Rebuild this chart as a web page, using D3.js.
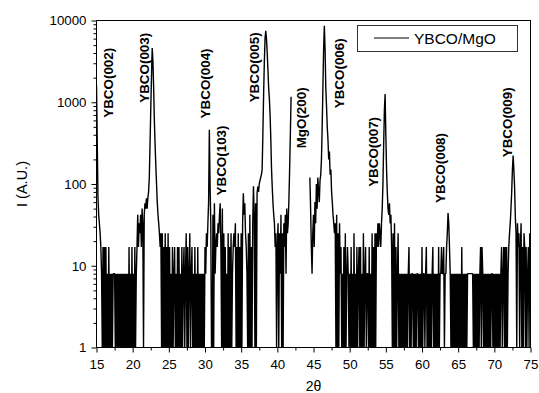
<!DOCTYPE html>
<html>
<head>
<meta charset="utf-8">
<script src="https://cdn.jsdelivr.net/npm/d3@7"></script>
<style>
  html, body { margin: 0; padding: 0; background: #fff; }
  svg { display: block; font-family: Arial, "Liberation Sans", sans-serif; }
</style>
</head>
<body>
<div id="chart"></div>
<script>
// 2-theta grid of the scan (degrees)
const thetaStart = 15;
const thetaStep = 0.1;

// Intensities, 10 points per degree, 1 = zero counts
const int15 = [
  1600, 350, 70, 42, 33, 25, 17, 8, 1, 17,
  1, 17, 1, 17, 1, 8, 1, 17, 1, 8,
  1, 8, 1, 8, 8, 8, 1, 8, 1, 8,
  1, 8, 1, 8, 1, 8, 1, 8, 1, 8,
  1, 8, 1, 8, 1, 17, 1, 8, 1, 17,
  1, 8, 1, 17, 1, 8, 17, 42, 17, 33,
  25, 42, 17, 50, 33, 1, 42, 58, 50, 67,
  50, 67, 80, 120, 300, 800, 2000, 4600, 3200, 1500,
  600, 300, 170, 100, 60, 42, 33, 25, 17, 25,
  1, 25, 1, 17, 1, 25, 1, 17, 1, 25,
];
const int25 = [
  1, 17, 1, 8, 1, 17, 1, 8, 17, 1,
  8, 1, 17, 1, 17, 1, 8, 1, 17, 1,
  8, 17, 1, 8, 25, 1, 17, 1, 8, 25,
  1, 8, 17, 1, 8, 1, 17, 1, 8, 1,
  17, 1, 8, 1, 8, 1, 8, 1, 8, 1,
  17, 8, 25, 17, 33, 60, 460, 100, 33, 1,
  1, 42, 1, 58, 8, 17, 25, 17, 33, 25,
  42, 58, 17, 1, 50, 1, 25, 1, 17, 1,
  8, 1, 25, 1, 17, 1, 25, 1, 8, 17,
  25, 17, 33, 1, 17, 1, 25, 1, 17, 1,
];
// 42.0-44.4 is missing from the scan (MgO substrate peak)
const int35 = [
  25, 1, 33, 77, 42, 58, 25, 17, 8, 1,
  25, 1, 42, 1, 17, 1, 33, 94, 42, 1,
  58, 1, 77, 93, 80, 100, 110, 120, 130, 150,
  400, 1200, 3000, 6000, 7480, 6000, 4000, 2500, 1500, 1100,
  700, 350, 150, 90, 58, 42, 33, 17, 25, 1,
  17, 33, 1, 25, 8, 42, 1, 25, 1, 33,
  17, 42, 8, 50, 25, 33, 64, 150, 400, 1170,
  null, null, null, null, null, null, null, null, null, null,
  null, null, null, null, null, null, null, null, null, null,
  null, null, null, null, null, 120, 50, 17, 8, 25,
];
const int45 = [
  42, 17, 60, 33, 100, 50, 120, 80, 60, 110,
  130, 200, 500, 1500, 4500, 8600, 4500, 1500, 900, 500,
  350, 200, 250, 130, 150, 80, 60, 42, 33, 25,
  33, 1, 42, 1, 25, 1, 33, 8, 17, 1,
  8, 1, 17, 1, 25, 1, 8, 17, 8, 1,
  8, 1, 17, 1, 8, 1, 25, 1, 8, 1,
  17, 1, 8, 17, 1, 17, 1, 8, 1, 25,
  1, 8, 17, 1, 8, 8, 1, 17, 1, 8,
  1, 25, 1, 17, 1, 25, 1, 25, 17, 33,
  17, 33, 25, 17, 33, 50, 100, 300, 800, 1260,
];
const int55 = [
  400, 150, 80, 50, 42, 58, 33, 42, 17, 1,
  25, 1, 33, 1, 17, 1, 8, 25, 1, 8,
  1, 8, 1, 8, 1, 8, 1, 8, 1, 8,
  1, 8, 17, 1, 8, 1, 8, 8, 1, 8,
  1, 8, 1, 8, 8, 1, 8, 1, 8, 1,
  17, 1, 8, 8, 1, 8, 17, 1, 8, 1,
  8, 1, 8, 1, 8, 17, 1, 8, 1, 8,
  1, 8, 1, 17, 1, 8, 8, 17, 8, 8,
  17, 1, 8, 8, 17, 25, 44, 33, 17, 8,
  1, 8, 1, 8, 1, 8, 1, 8, 1, 8,
];
const int65 = [
  1, 8, 1, 8, 1, 17, 1, 8, 1, 8,
  1, 8, 1, 8, 8, 8, 8, 8, 8, 8,
  8, 1, 8, 1, 8, 1, 8, 1, 8, 1,
  8, 17, 1, 17, 8, 1, 8, 1, 8, 1,
  8, 1, 8, 1, 8, 1, 8, 8, 1, 8,
  1, 8, 1, 8, 1, 8, 1, 8, 1, 8,
  17, 1, 8, 17, 1, 17, 1, 17, 1, 8,
  17, 25, 33, 50, 80, 150, 223, 150, 92, 40,
  25, 1, 33, 17, 25, 1, 17, 33, 1, 17,
  1, 25, 17, 1, 17, 1, 8, 17, 1, 25,
];
const int75 = [17];

const xTicks = [15, 20, 25, 30, 35, 40, 45, 50, 55, 60, 65, 70, 75];
const yTicks = [1, 10, 100, 1000, 10000];

// Reflection labels, placed at (2theta, intensity) of the label centre
const peakLabels = [
  { text: "YBCO(002)", theta: 16.69, intensity: 1730 },
  { text: "YBCO(003)", theta: 21.61, intensity: 2640 },
  { text: "YBCO(004)", theta: 30.10, intensity: 1700 },
  { text: "YBCO(103)", theta: 32.31, intensity: 194 },
  { text: "YBCO(005)", theta: 36.80, intensity: 2670 },
  { text: "MgO(200)", theta: 43.37, intensity: 644 },
  { text: "YBCO(006)", theta: 48.62, intensity: 2260 },
  { text: "YBCO(007)", theta: 53.25, intensity: 247 },
  { text: "YBCO(008)", theta: 62.51, intensity: 157 },
  { text: "YBCO(009)", theta: 71.84, intensity: 568 },
];

const seriesName = "YBCO/MgO";

const width = 539;
const height = 393;
const margin = { top: 20.5, right: 8.5, bottom: 45.5, left: 96.5 };
const chartWidth = width - margin.left - margin.right;
const chartHeight = height - margin.top - margin.bottom;

const intensities = [].concat(int15, int25, int35, int45, int55, int65, int75);
const data = intensities.map((v, i) => ({
  theta: thetaStart + i * thetaStep,
  value: v,
}));

const x = d3.scaleLinear().domain([15, 75]).range([0, chartWidth]);
const y = d3.scaleLog().domain([1, 10000]).range([chartHeight, 0]);

const svg = d3.select("#chart")
  .append("svg")
  .attr("width", width)
  .attr("height", height);

const g = svg.append("g")
  .attr("transform", `translate(${margin.left},${margin.top})`);

g.append("clipPath")
  .attr("id", "plot-clip")
  .append("rect")
  .attr("width", chartWidth)
  .attr("height", chartHeight);

// minor ticks
const xMinor = xTicks.slice(0, -1).map((t, i) => (t + xTicks[i + 1]) / 2);
const yMinor = [];
yTicks.slice(0, -1).forEach((d) => {
  for (let k = 2; k < 10; k++) yMinor.push(d * k);
});

g.append("g")
  .attr("transform", `translate(0,${chartHeight})`)
  .call(d3.axisBottom(x).tickValues(xMinor).tickSize(3).tickFormat(""))
  .call((a) => a.select(".domain").remove());

g.append("g")
  .call(d3.axisLeft(y).tickValues(yMinor).tickSize(3).tickFormat(""))
  .call((a) => a.select(".domain").remove());

g.append("g")
  .attr("transform", `translate(0,${chartHeight})`)
  .call(d3.axisBottom(x).tickValues(xTicks).tickSize(5).tickPadding(7).tickFormat(d3.format("d")))
  .call((a) => a.select(".domain").remove())
  .selectAll("text")
  .style("font-size", "13.3px")
  .style("font-family", "Arial, 'Liberation Sans', sans-serif")
  .attr("fill", "#000");

g.append("g")
  .call(d3.axisLeft(y).tickValues(yTicks).tickSize(5).tickPadding(5).tickFormat(d3.format("d")))
  .call((a) => a.select(".domain").remove())
  .selectAll("text")
  .style("font-size", "13.3px")
  .style("font-family", "Arial, 'Liberation Sans', sans-serif")
  .attr("fill", "#000");

g.selectAll(".tick line").attr("stroke", "#000");

// pattern
const line = d3.line()
  .defined((d) => d.value != null)
  .x((d) => x(d.theta))
  .y((d) => y(d.value));

g.append("path")
  .datum(data)
  .attr("clip-path", "url(#plot-clip)")
  .attr("fill", "none")
  .attr("stroke", "#000")
  .attr("stroke-width", 1.4)
  .attr("stroke-linejoin", "bevel")
  .attr("d", line);

// frame
g.append("rect")
  .attr("width", chartWidth)
  .attr("height", chartHeight)
  .attr("fill", "none")
  .attr("stroke", "#000")
  .attr("stroke-width", 1);

// peak labels
g.selectAll(".peak-label")
  .data(peakLabels)
  .enter()
  .append("text")
  .attr("class", "peak-label")
  .attr("transform", (d) => `translate(${x(d.theta)},${y(d.intensity)}) rotate(-90)`)
  .attr("text-anchor", "middle")
  .attr("dy", "0.35em")
  .style("font-size", "13.4px")
  .style("font-weight", "bold")
  .text((d) => d.text);

// axis titles
svg.append("text")
  .attr("transform", `translate(22,${margin.top + chartHeight / 2}) rotate(-90)`)
  .attr("text-anchor", "middle")
  .attr("dy", "0.35em")
  .style("font-size", "14.5px")
  .text("I (A.U.)");

svg.append("text")
  .attr("x", margin.left + chartWidth / 2)
  .attr("y", 391)
  .attr("text-anchor", "middle")
  .style("font-size", "14px")
  .text("2θ");

// legend
const legend = svg.append("g").attr("class", "legend");
legend.append("rect")
  .attr("x", 357.5)
  .attr("y", 25.5)
  .attr("width", 160)
  .attr("height", 26)
  .attr("fill", "#fff")
  .attr("stroke", "#333");
legend.append("line")
  .attr("x1", 374)
  .attr("x2", 409)
  .attr("y1", 38)
  .attr("y2", 38)
  .attr("stroke", "#000");
legend.append("text")
  .attr("x", 414)
  .attr("y", 43.5)
  .style("font-size", "15.5px")
  .text(seriesName);
</script>
</body>
</html>
